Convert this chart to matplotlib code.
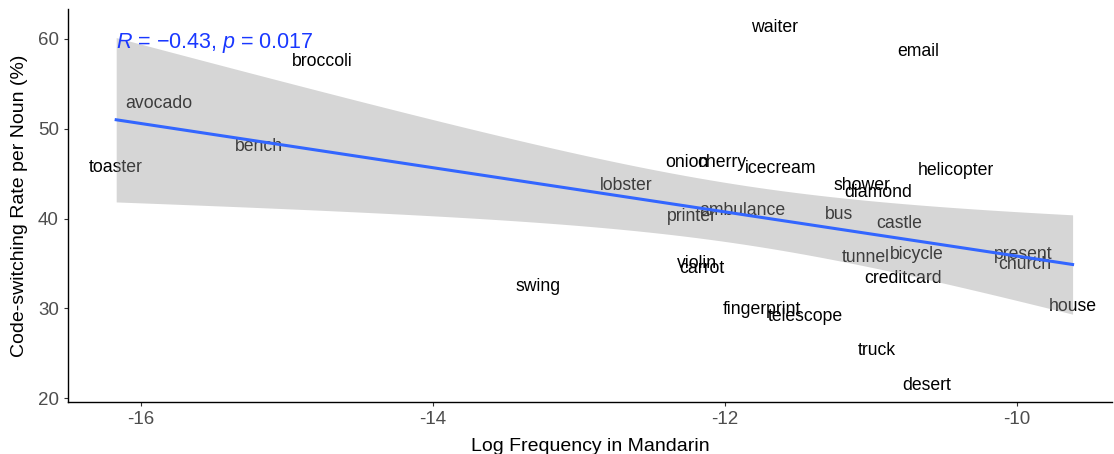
import numpy as np
import matplotlib
matplotlib.use('Agg')
import matplotlib.pyplot as plt

plt.rcParams['font.family'] = ['Liberation Sans', 'DejaVu Sans']
plt.rcParams['mathtext.fontset'] = 'custom'
plt.rcParams['mathtext.rm'] = 'Liberation Sans'
plt.rcParams['mathtext.it'] = 'Liberation Sans:italic'

# ------------------------------------------------------------------
# Data
# ------------------------------------------------------------------
nouns = ['waiter', 'email', 'broccoli', 'avocado', 'toaster', 'bench',
         'lobster', 'onion', 'cherry', 'icecream', 'helicopter', 'shower',
         'diamond', 'printer', 'ambulance', 'bus', 'castle', 'violin',
         'carrot', 'tunnel', 'bicycle', 'present', 'church', 'creditcard',
         'swing', 'fingerprint', 'telescope', 'house', 'truck', 'desert']
log_freq = [-11.66, -10.68, -14.76, -15.88, -16.17, -15.19,
            -12.68, -12.26, -12.02, -11.62, -10.42, -11.06,
            -10.95, -12.23, -11.88, -11.22, -10.81, -12.19,
            -12.16, -11.04, -10.69, -9.96, -9.95, -10.78,
            -13.28, -11.75, -11.45, -9.62, -10.96, -10.62]
cs_rate = [61.3, 58.6, 57.5, 52.8, 45.7, 48.0,
           43.7, 46.3, 46.2, 45.6, 45.4, 43.7,
           42.9, 40.2, 40.9, 40.5, 39.5, 35.0,
           34.4, 35.7, 36.0, 36.0, 34.9, 33.3,
           32.4, 29.9, 29.1, 30.2, 25.3, 21.4]

x = np.array(log_freq)
y = np.array(cs_rate)

# ------------------------------------------------------------------
# Linear fit with 95% confidence band
# ------------------------------------------------------------------
n = len(x)
slope, intercept = np.polyfit(x, y, 1)
resid = y - (slope * x + intercept)
s = np.sqrt(np.sum(resid ** 2) / (n - 2))
xs = np.linspace(x.min(), x.max(), 80)
fit = slope * xs + intercept
se = s * np.sqrt(1 / n + (xs - x.mean()) ** 2 / np.sum((x - x.mean()) ** 2))
t_crit = 2.048  # t(0.975, df=28)
r = np.corrcoef(x, y)[0, 1]
print(f"slope={slope:.3f}, intercept={intercept:.3f}, r={r:.3f}")

# ------------------------------------------------------------------
# Plot
# ------------------------------------------------------------------
fig = plt.figure(figsize=(11.14, 4.54), dpi=100)
ax = fig.add_axes([68 / 1114, 52 / 454, 1044 / 1114, 393 / 454])

for word, xi, yi in zip(nouns, x, y):
    ax.text(xi, yi, word, ha='center', va='center', fontsize=12.7, color='black')

ax.fill_between(xs, fit - t_crit * se, fit + t_crit * se, color='#999999', alpha=0.4,
                linewidth=0, zorder=3)
ax.plot(xs, fit, color='#3366FF', linewidth=2.2, zorder=4)

ax.text(x.min(), 59.6, r'$R$ = −0.43, $p$ = 0.017', color='#1a38ff', fontsize=15.5,
        ha='left', va='center', zorder=5)

ax.set_xlim(-16.5, -9.35)
ax.set_ylim(19.58, 63.34)
ax.set_xticks([-16, -14, -12, -10])
ax.set_xticklabels(['-16', '-14', '-12', '-10'])
ax.set_yticks([20, 30, 40, 50, 60])
ax.tick_params(colors='#333333', labelcolor='#4D4D4D', labelsize=13.5, length=3, width=0.8)
for side in ['top', 'right']:
    ax.spines[side].set_visible(False)
for side in ['left', 'bottom']:
    ax.spines[side].set_linewidth(1.0)
    ax.spines[side].set_color('black')

ax.set_xlabel('Log Frequency in Mandarin', fontsize=14, labelpad=7)
ax.set_ylabel('Code-switching Rate per Noun (%)', fontsize=14, labelpad=7)

fig.savefig('out.png', dpi=100)
